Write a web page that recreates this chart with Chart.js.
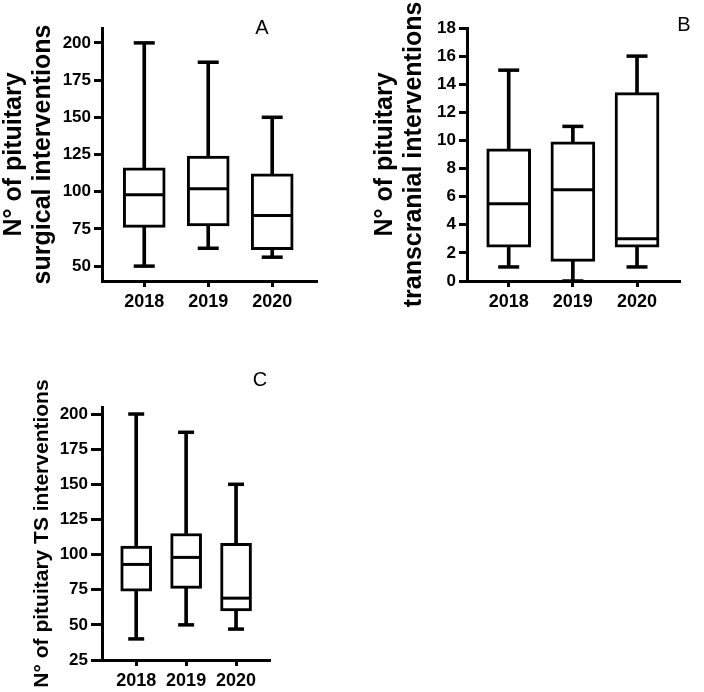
<!DOCTYPE html>
<html>
<head>
<meta charset="utf-8">
<script src="https://cdn.jsdelivr.net/npm/chart.js@4.4.0/dist/chart.umd.min.js"></script>
<style>
  body { margin: 0; background: #fff; }
  #wrap { position: relative; width: 704px; height: 692px; overflow: hidden; background: #fff; }
  canvas { position: absolute; }
</style>
</head>
<body>
<div id="wrap">
  <canvas id="chartA" width="340" height="330" style="left:0;top:0"></canvas>
  <canvas id="chartB" width="333" height="330" style="left:371px;top:0"></canvas>
  <canvas id="chartC" width="260" height="332" style="left:30px;top:360px"></canvas>
</div>
<script>
const FONT = '"Liberation Sans", Arial, sans-serif';
const years = [2018, 2019, 2020];

// A - surgical interventions
const aMin = [50, 62, 56];
const aQ1 = [76, 77, 61];
const aMedian = [98, 102, 84];
const aQ3 = [116, 124, 112];
const aMax = [200, 187, 150];
const aTicks = [50, 75, 100, 125, 150, 175, 200];

// B - transcranial interventions
const bMin = [1, 0, 1];
const bQ1 = [2.4, 1.4, 2.4];
const bMedian = [5.5, 6.5, 3];
const bQ3 = [9.4, 9.9, 13.4];
const bMax = [15, 11, 16];
const bTicks = [0, 2, 4, 6, 8, 10, 12, 14, 16, 18];

// C - TS interventions
const cMin = [40, 50, 47];
const cQ1 = [74, 76, 60];
const cMedian = [93, 98, 69];
const cQ3 = [106, 115, 108];
const cMax = [200, 187, 150];
const cTicks = [25, 50, 75, 100, 125, 150, 175, 200];

// draws the panel letter (A, B, C)
const panelLetter = {
  id: 'panelLetter',
  afterDraw(chart, args, opts) {
    const ctx = chart.ctx;
    ctx.save();
    ctx.font = '20px ' + FONT;
    ctx.fillStyle = '#000';
    ctx.textAlign = 'center';
    ctx.textBaseline = 'middle';
    ctx.fillText(opts.text, opts.x, opts.y);
    ctx.restore();
  }
};

function makeBoxChart(canvasId, s) {
  const ctx = document.getElementById(canvasId).getContext('2d');
  const pts = (arr) => years.map((x, i) => ({x: x, y: arr[i]}));
  const range = (lo, hi) => years.map((x, i) => ({x: x, y: [lo[i], hi[i]]}));

  return new Chart(ctx, {
    type: 'bar',
    data: {
      datasets: [
        {
          // lower whiskers
          data: range(s.min, s.q1), grouped: false, order: 3,
          backgroundColor: '#000', borderWidth: 0, barThickness: 3
        },
        {
          // upper whiskers
          data: range(s.q3, s.max), grouped: false, order: 3,
          backgroundColor: '#000', borderWidth: 0, barThickness: 3
        },
        {
          // boxes
          data: range(s.q1, s.q3), grouped: false, order: 2,
          backgroundColor: '#fff', borderColor: '#000', borderWidth: 3,
          borderSkipped: false, barThickness: s.boxW
        },
        {
          // whisker caps
          type: 'line', showLine: false, order: 1,
          data: pts(s.min).concat(pts(s.max)),
          pointStyle: 'line', pointRadius: s.capW / 2, pointBorderWidth: 3.5,
          pointBorderColor: '#000'
        },
        {
          // medians
          type: 'line', showLine: false, order: 0,
          data: pts(s.median),
          pointStyle: 'line', pointRadius: s.boxW / 2 - 1, pointBorderWidth: 3,
          pointBorderColor: '#000'
        }
      ]
    },
    options: {
      responsive: false,
      animation: false,
      devicePixelRatio: 1,
      layout: { padding: { left: 0, top: s.padTop, right: s.padRight, bottom: 0 } },
      plugins: {
        legend: { display: false },
        tooltip: { enabled: false },
        panelLetter: s.letter
      },
      scales: {
        x: {
          type: 'linear',
          offset: false,
          min: s.xMin,
          max: s.xMax,
          afterBuildTicks: (scale) => { scale.ticks = years.map(v => ({value: v})); },
          afterFit: (scale) => { scale.height = s.xHeight; },
          grid: { offset: false, drawOnChartArea: false, drawTicks: true, tickLength: 6, tickColor: '#000', tickWidth: 3 },
          border: { display: true, color: '#000', width: 3 },
          ticks: {
            color: '#000', padding: 4, maxRotation: 0,
            font: { family: FONT, size: 18, weight: 'bold' },
            callback: (v) => String(v)
          }
        },
        y: {
          min: s.yMin,
          max: s.yMax,
          afterBuildTicks: (scale) => { scale.ticks = s.ticks.map(v => ({value: v})); },
          afterFit: (scale) => { scale.width = s.yWidth; },
          grid: { drawOnChartArea: false, drawTicks: true, tickLength: s.tickLen, tickColor: '#000', tickWidth: 3 },
          border: { display: true, color: '#000', width: 3 },
          ticks: {
            color: '#000', padding: 3,
            font: { family: FONT, size: 17, weight: 'bold' },
            callback: (v) => String(v)
          },
          title: {
            display: true,
            text: s.title,
            color: '#000',
            padding: 0,
            font: { family: FONT, size: s.titleSize, weight: 'bold', lineHeight: s.titleLH }
          }
        }
      }
    },
    plugins: [panelLetter]
  });
}

makeBoxChart('chartA', {
  min: aMin, q1: aQ1, median: aMedian, q3: aQ3, max: aMax, ticks: aTicks,
  yMin: 40, yMax: 210, xMin: 2017.34, xMax: 2020.7,
  title: ['N° of pituitary', 'surgical interventions'], titleSize: 25, titleLH: 1.15,
  boxW: 42, capW: 21, tickLen: 8,
  yWidth: 102, xHeight: 49, padTop: 28, padRight: 18,
  letter: { text: 'A', x: 262, y: 28 }
});

makeBoxChart('chartB', {
  min: bMin, q1: bQ1, median: bMedian, q3: bQ3, max: bMax, ticks: bTicks,
  yMin: 0, yMax: 18, xMin: 2017.35, xMax: 2020.67,
  title: ['N° of pituitary', 'transcranial interventions'], titleSize: 25, titleLH: 1.15,
  boxW: 44, capW: 21, tickLen: 8,
  yWidth: 96, xHeight: 49, padTop: 28, padRight: 0,
  letter: { text: 'B', x: 313, y: 25 }
});

makeBoxChart('chartC', {
  min: cMin, q1: cQ1, median: cMedian, q3: cQ3, max: cMax, ticks: cTicks,
  yMin: 25, yMax: 205, xMin: 2017.315, xMax: 2020.68,
  title: 'N° of pituitary TS interventions', titleSize: 21, titleLH: 1.2,
  boxW: 31, capW: 16, tickLen: 11,
  yWidth: 72, xHeight: 32, padTop: 47, padRight: 20,
  letter: { text: 'C', x: 230, y: 20 }
});
</script>
</body>
</html>
